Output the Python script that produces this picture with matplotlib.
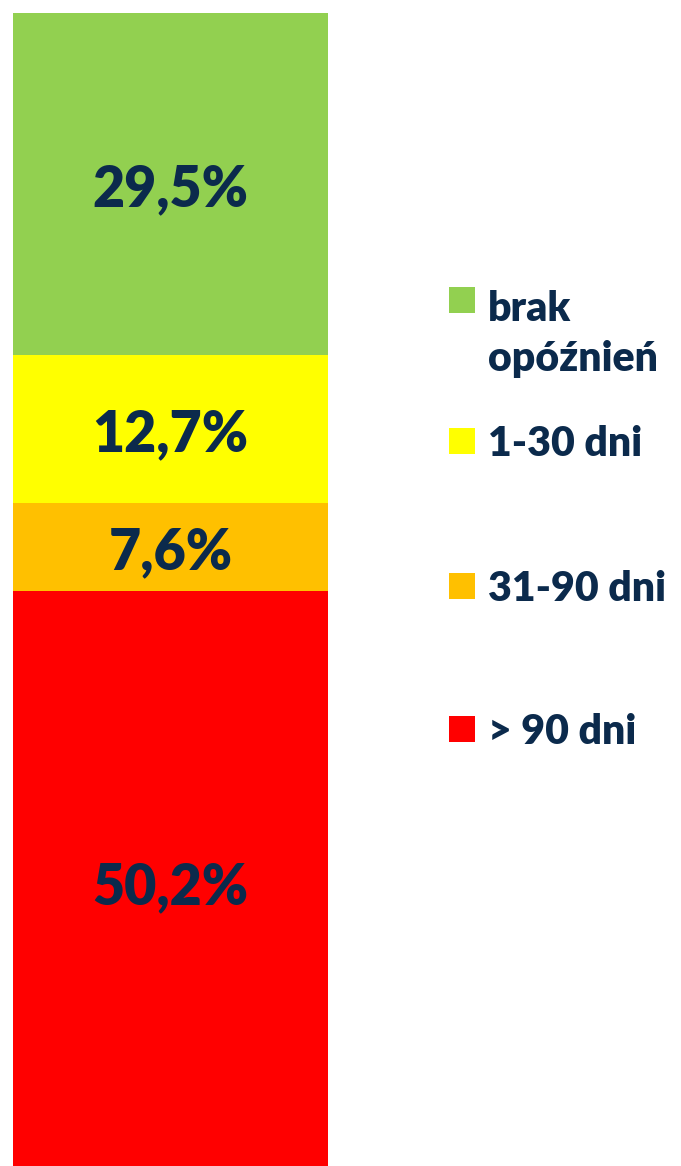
import matplotlib
matplotlib.use("Agg")
import matplotlib.pyplot as plt
from matplotlib.patches import Rectangle

plt.rcParams['font.family'] = ['Lato', 'DejaVu Sans']

categories = ["> 90 dni", "31-90 dni", "1-30 dni", "brak\nopóźnień"]
values = [50.2, 7.6, 12.7, 29.5]
labels = ["50,2%", "7,6%", "12,7%", "29,5%"]
colors = ["#FF0000", "#FFC000", "#FFFF00", "#92D050"]
text_color = "#0B2A4C"

W, H = 681, 1166
fig = plt.figure(figsize=(W / 100, H / 100), dpi=100)
ax = fig.add_axes([13 / W, -7 / H, 315 / W, 1160 / H])

bottom = 0
for v, c, lab in zip(values, colors, labels):
    ax.bar(0, v, bottom=bottom, width=1, color=c, align='center', linewidth=0)
    ax.annotate(lab, (0, bottom + v / 2), xytext=(0, -4), textcoords='offset points',
                ha='center', va='center', fontsize=40, fontweight='heavy',
                color=text_color)
    bottom += v
ax.set_xlim(-0.5, 0.5)
ax.set_ylim(0, 100)
ax.axis('off')

# legend (top to bottom)
leg_y = [300, 441, 586, 729]  # pixel centers of squares from top
for cat, c, y in zip(categories[::-1], colors[::-1], leg_y):
    fig.patches.append(Rectangle((449 / W, 1 - (y + 13) / H), 26 / W, 26 / H,
                                 transform=fig.transFigure, color=c, linewidth=0))
    if '\n' in cat:
        fig.text(488 / W, 1 - 371 / H, cat, ha='left', va='baseline', fontsize=29.5,
                 fontweight='heavy', color=text_color, linespacing=1.38)
    else:
        fig.text(488 / W, 1 - (y + 3) / H, cat, ha='left', va='center', fontsize=29.5,
                 fontweight='heavy', color=text_color)

fig.savefig("out.png", dpi=100, facecolor='white')
